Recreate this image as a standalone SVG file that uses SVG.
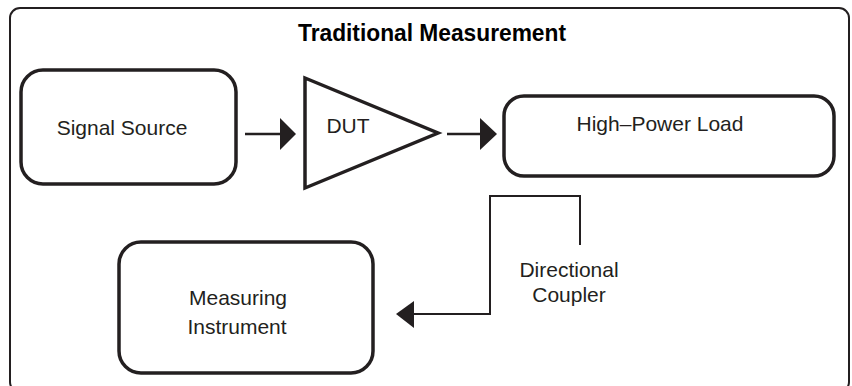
<svg xmlns="http://www.w3.org/2000/svg" width="852" height="386" viewBox="0 0 852 386">
<style>
.box{fill:#fff;stroke:#231f20;stroke-width:3.5}
.lbl{font-family:"Liberation Sans",Arial,sans-serif;font-size:21px;fill:#231f20;text-anchor:middle}
.ttl{font-family:"Liberation Sans",Arial,sans-serif;font-size:24px;font-weight:bold;fill:#000;text-anchor:middle}
.ln{fill:none;stroke:#231f20;stroke-width:2.5}
.ah{fill:#231f20}
</style>
<rect width="852" height="386" fill="#fff"/>
<g id="frame">
<rect x="10" y="8" width="839" height="384" rx="10" fill="none" stroke="#231f20" stroke-width="2"/>
<text class="ttl" x="432" y="41" textLength="268" lengthAdjust="spacingAndGlyphs">Traditional Measurement</text>
</g>
<g id="signal-source">
<rect class="box" x="21" y="70" width="215" height="114" rx="22"/>
<text class="lbl" x="122" y="135">Signal Source</text>
</g>
<g id="dut">
<polygon points="305,78 305,188 438,133" fill="#fff" stroke="#231f20" stroke-width="3.5" stroke-linejoin="miter"/>
<text class="lbl" x="348" y="133">DUT</text>
</g>
<g id="high-power-load">
<rect class="box" x="504" y="96" width="330" height="80" rx="20"/>
<text class="lbl" x="660" y="131">High–Power Load</text>
</g>
<g id="measuring-instrument">
<rect class="box" x="119" y="242" width="254" height="131" rx="22"/>
<text class="lbl" x="238" y="305">Measuring</text>
<text class="lbl" x="237" y="334">Instrument</text>
</g>
<g id="directional-coupler">
<text class="lbl" x="569" y="277">Directional</text>
<text class="lbl" x="569" y="302">Coupler</text>
</g>
<g id="connectors">
<line class="ln" x1="245" y1="134" x2="282" y2="134"/>
<polygon class="ah" points="280,118 296,134 280,150"/>
<line class="ln" x1="447" y1="134" x2="482" y2="134"/>
<polygon class="ah" points="480,118 497,134 480,150"/>
<polyline fill="none" stroke="#231f20" stroke-width="2" points="580,245 580,196 490,196 490,314 412,314"/>
<polygon class="ah" points="414,301 396,314 414,328"/>
</g>
</svg>
